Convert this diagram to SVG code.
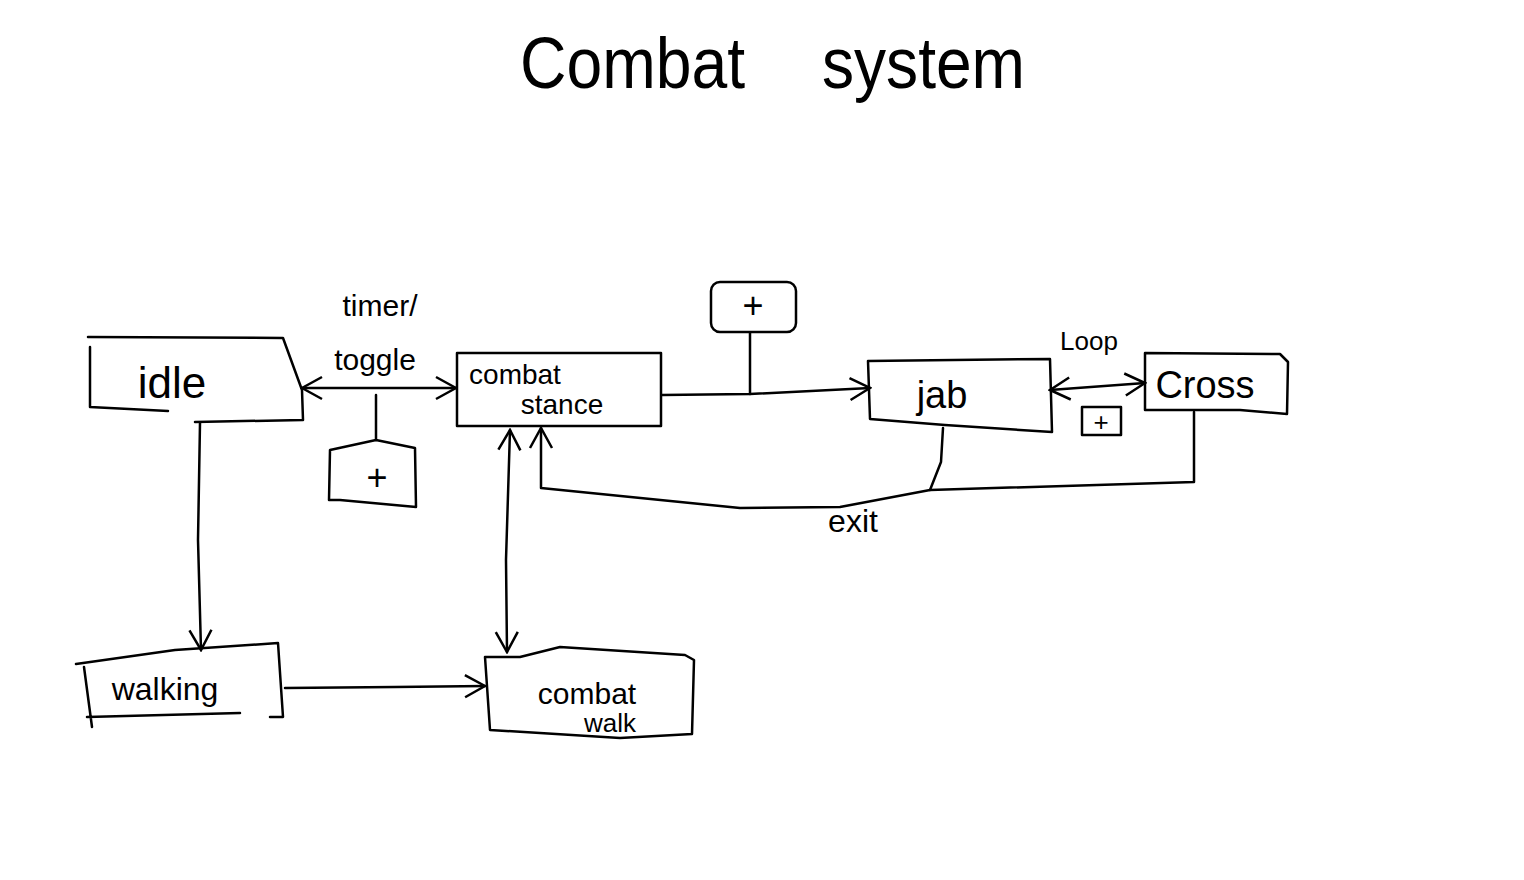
<svg xmlns="http://www.w3.org/2000/svg" width="1524" height="880" viewBox="0 0 1524 880">
<defs>
<marker id="arr" viewBox="0 0 26 26" refX="24" refY="13" markerWidth="26" markerHeight="26" markerUnits="userSpaceOnUse" orient="auto-start-reverse">
<path d="M4,2 L24,13 L4,24" fill="none" stroke="#000" stroke-width="2.5"/>
</marker>
</defs>
<style>
.s{fill:none;stroke:#000;stroke-width:2.5;stroke-linecap:round;stroke-linejoin:round}
.t{font-family:"Liberation Sans",Arial,sans-serif;fill:#000}
.c{stroke:#000;stroke-width:2.5;fill:none;stroke-linecap:round;stroke-linejoin:round}
</style>
<rect width="1524" height="880" fill="#fff"/>
<g id="title">
<text class="t" x="520" y="88" font-size="72" textLength="225" lengthAdjust="spacingAndGlyphs">Combat</text>
<text class="t" x="822" y="88" font-size="72" textLength="203" lengthAdjust="spacingAndGlyphs">system</text>
</g>

<g id="connectors">
<path class="c" d="M302,388 L456,388" marker-start="url(#arr)" marker-end="url(#arr)"/>
<path class="c" d="M376,395 L376,440"/>
<path class="c" d="M662,395 L750,394 L870,388" marker-end="url(#arr)"/>
<path class="c" d="M750,333 L750,394"/>
<path class="c" d="M1050,390 L1145,383" marker-start="url(#arr)" marker-end="url(#arr)"/>
<path class="c" d="M1194,412 L1194,482 L930,490 L840,507 L740,508 L541,488 L541,428" marker-end="url(#arr)"/>
<path class="c" d="M943,428 L941,462 L930,490"/>
<path class="c" d="M510,430 L506,560 L507,652" marker-start="url(#arr)" marker-end="url(#arr)"/>
<path class="c" d="M200,423 L198,540 L201,650" marker-end="url(#arr)"/>
<path class="c" d="M285,688 L395,687 L485,686" marker-end="url(#arr)"/>
</g>

<g id="idle">
<path class="s" d="M88,337 L283,338 L302,390 L303,420 L195,422 M90,347 L90,407 L168,411"/>
<text class="t" x="172" y="398" font-size="44" text-anchor="middle">idle</text>
</g>

<g id="toggle-label">
<text class="t" x="380" y="316" font-size="30" text-anchor="middle">timer/</text>
<text class="t" x="375" y="370" font-size="30" text-anchor="middle">toggle</text>
</g>

<g id="plus1">
<path class="s" d="M330,450 L376,440 L415,448 L416,507 L340,500 L329,500 Z"/>
<text class="t" x="377" y="490" font-size="36" text-anchor="middle">+</text>
</g>

<g id="combat-stance">
<rect class="s" x="457" y="353" width="204" height="73"/>
<text class="t" x="515" y="384" font-size="28" text-anchor="middle">combat</text>
<text class="t" x="562" y="414" font-size="28" text-anchor="middle">stance</text>
</g>

<g id="plus2">
<rect class="s" x="711" y="282" width="85" height="50" rx="9"/>
<text class="t" x="753" y="318" font-size="36" text-anchor="middle">+</text>
</g>

<g id="jab">
<path class="s" d="M868,361 L1050,359 L1052,432 L945,425 L870,419 Z"/>
<text class="t" x="942" y="408" font-size="38" text-anchor="middle">jab</text>
</g>

<g id="loop-label">
<text class="t" x="1089" y="350" font-size="26" text-anchor="middle">Loop</text>
</g>

<g id="plus3">
<rect class="s" x="1082" y="407" width="39" height="28"/>
<text class="t" x="1101" y="431" font-size="26" text-anchor="middle">+</text>
</g>

<g id="cross">
<path class="s" d="M1145,353 L1280,354 L1288,362 L1287,414 L1240,410 L1145,410 Z"/>
<text class="t" x="1205" y="398" font-size="38" text-anchor="middle">Cross</text>
</g>

<g id="exit-label">
<text class="t" x="853" y="532" font-size="32" text-anchor="middle">exit</text>
</g>

<g id="walking">
<path class="s" d="M76,664 L175,650 L278,643 L283,717 L270,717 M84,667 L92,727 M87,717 L240,713"/>
<text class="t" x="165" y="700" font-size="32" text-anchor="middle">walking</text>
</g>

<g id="combat-walk">
<path class="s" d="M485,657 L520,657 L560,647 L685,655 L694,660 L692,734 L620,738 L490,730 Z"/>
<text class="t" x="587" y="704" font-size="30" text-anchor="middle">combat</text>
<text class="t" x="610" y="732" font-size="26" text-anchor="middle">walk</text>
</g>
</svg>
